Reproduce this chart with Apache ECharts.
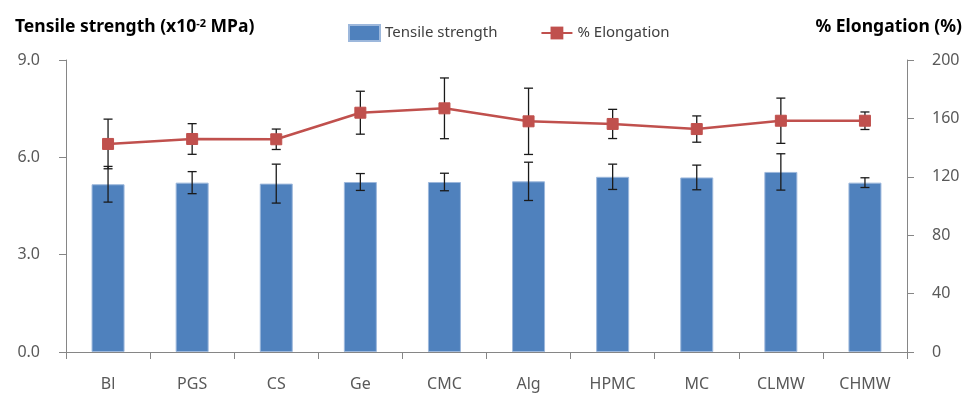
<!DOCTYPE html>
<html>
<head>
<meta charset="utf-8">
<script src="https://cdn.jsdelivr.net/npm/echarts@6/dist/echarts.min.js"></script>
<style>
  html, body { margin: 0; padding: 0; background: #fff; }
  #chart { width: 970px; height: 394px; }
</style>
</head>
<body>
<div id="chart"></div>
<script>
// Film samples
const categories = ['Bl', 'PGS', 'CS', 'Ge', 'CMC', 'Alg', 'HPMC', 'MC', 'CLMW', 'CHMW'];
// Tensile strength (x10^-2 MPa) and its standard deviation
const tensile = [5.17, 5.22, 5.19, 5.24, 5.24, 5.26, 5.40, 5.38, 5.55, 5.22];
const tensileSd = [0.55, 0.34, 0.60, 0.26, 0.27, 0.59, 0.39, 0.38, 0.56, 0.15];
// Elongation at break (%) and its standard deviation
const elongation = [142.5, 145.9, 145.7, 163.9, 166.9, 158.0, 156.2, 152.7, 158.4, 158.4];
const elongationSd = [17, 10.5, 7, 14.7, 20.8, 22.7, 10, 9, 15.5, 6];
// Axis ticks
const leftTicks = { min: 0, max: 9, interval: 3 };
const rightTicks = { min: 0, max: 200, interval: 40 };

const FONT = '"Noto Sans", sans-serif';
const AXIS_GREY = '#868686';
const LABEL_GREY = '#595959';

function errorBarRenderer(capHalf) {
  return function (params, api) {
    const idx = api.value(0);
    const hi = api.coord([idx, api.value(1) + api.value(2)]);
    const lo = api.coord([idx, api.value(1) - api.value(2)]);
    const style = { stroke: '#1a1a1a', lineWidth: 1.3 };
    return {
      type: 'group',
      children: [
        { type: 'line', shape: { x1: hi[0], y1: hi[1], x2: lo[0], y2: lo[1] }, style },
        { type: 'line', shape: { x1: hi[0] - capHalf, y1: hi[1], x2: hi[0] + capHalf, y2: hi[1] }, style },
        { type: 'line', shape: { x1: lo[0] - capHalf, y1: lo[1], x2: lo[0] + capHalf, y2: lo[1] }, style }
      ]
    };
  };
}

const chart = echarts.init(document.getElementById('chart'), null, { renderer: 'canvas' });

chart.setOption({
  animation: false,
  textStyle: { fontFamily: FONT },
  title: [
    {
      text: 'Tensile strength (x10{sup|-2} MPa)',
      left: 10, top: 13,
      textStyle: {
        fontFamily: FONT, fontSize: 17.5, fontWeight: 'bold', color: '#000',
        rich: {
          sup: { fontFamily: FONT, fontSize: 11, fontWeight: 'bold', color: '#000', verticalAlign: 'top', padding: [0, 0, 8, 0] }
        }
      }
    },
    {
      text: '% Elongation (%)',
      right: 3, top: 13,
      textStyle: { fontFamily: FONT, fontSize: 17.5, fontWeight: 'bold', color: '#000' }
    }
  ],
  legend: {
    data: [{ name: 'Tensile strength', icon: 'rect' }, { name: '% Elongation' }],
    left: 343, top: 19,
    itemWidth: 31, itemHeight: 16, itemGap: 43,
    textStyle: { fontFamily: FONT, fontSize: 15, color: '#404040' }
  },
  grid: { left: 66, right: 63, top: 60, bottom: 42 },
  xAxis: {
    type: 'category',
    data: categories,
    boundaryGap: true,
    axisLine: { lineStyle: { color: AXIS_GREY, width: 1 } },
    axisTick: { show: true, length: 7, alignWithLabel: false, lineStyle: { color: AXIS_GREY } },
    axisLabel: { color: LABEL_GREY, fontSize: 16, margin: 24, fontFamily: FONT },
    splitLine: { show: false }
  },
  yAxis: [
    {
      type: 'value',
      min: leftTicks.min, max: leftTicks.max, interval: leftTicks.interval,
      axisLine: { show: true, lineStyle: { color: AXIS_GREY } },
      axisTick: { show: true, length: 7, lineStyle: { color: AXIS_GREY } },
      axisLabel: { color: LABEL_GREY, fontSize: 16, margin: 26, fontFamily: FONT, formatter: v => v.toFixed(1) },
      splitLine: { show: false }
    },
    {
      type: 'value',
      position: 'right',
      min: rightTicks.min, max: rightTicks.max, interval: rightTicks.interval,
      axisLine: { show: true, lineStyle: { color: AXIS_GREY } },
      axisTick: { show: true, length: 7, lineStyle: { color: AXIS_GREY } },
      axisLabel: { color: LABEL_GREY, fontSize: 16, margin: 25, fontFamily: FONT },
      splitLine: { show: false }
    }
  ],
  series: [
    {
      name: 'Tensile strength',
      type: 'bar',
      data: tensile,
      barWidth: 33,
      itemStyle: { color: '#4F81BD', borderColor: '#9db8dc', borderWidth: 1 },
      z: 2
    },
    {
      name: 'tensile-sd',
      type: 'custom',
      data: tensile.map((v, i) => [i, v, tensileSd[i]]),
      encode: { x: 0, y: 1 },
      renderItem: errorBarRenderer(4.5),
      z: 3
    },
    {
      name: 'elongation-sd',
      type: 'custom',
      yAxisIndex: 1,
      data: elongation.map((v, i) => [i, v, elongationSd[i]]),
      encode: { x: 0, y: 1 },
      renderItem: errorBarRenderer(4.5),
      z: 3
    },
    {
      name: '% Elongation',
      type: 'line',
      yAxisIndex: 1,
      data: elongation,
      symbol: 'rect',
      symbolSize: 11,
      lineStyle: { color: '#C0504D', width: 2.5 },
      itemStyle: { color: '#C0504D', borderColor: '#C0504D' },
      z: 4
    }
  ]
});
</script>
</body>
</html>
